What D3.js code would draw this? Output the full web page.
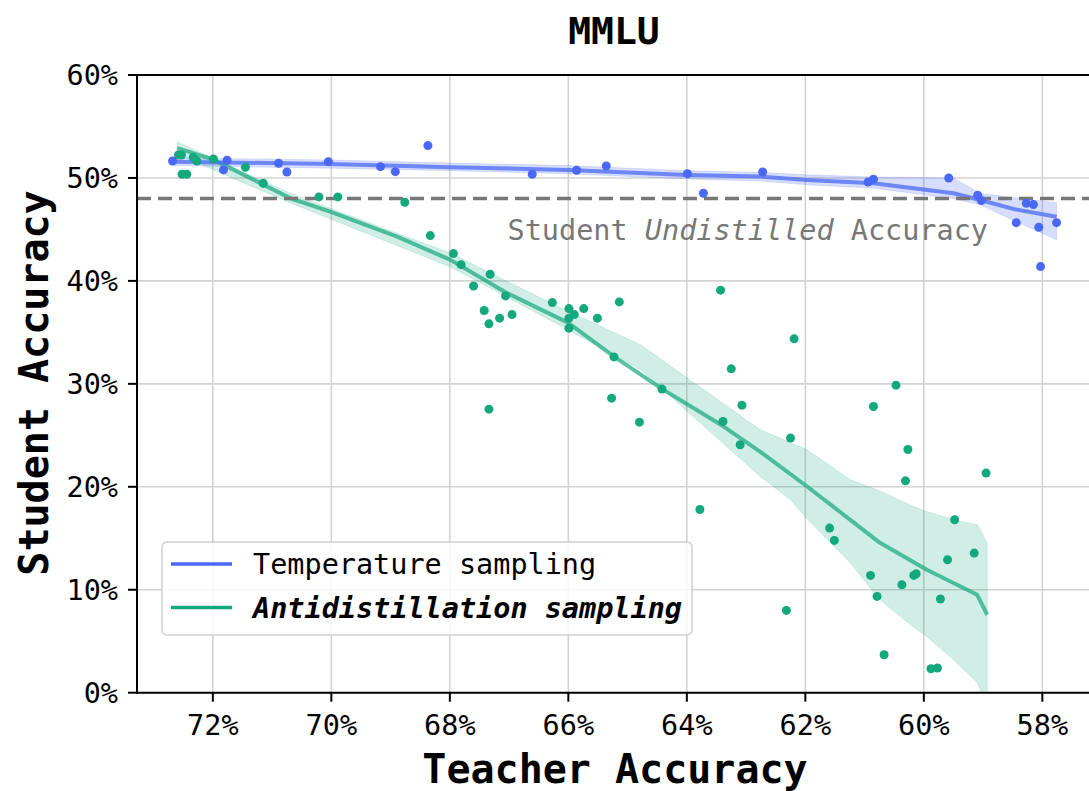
<!DOCTYPE html>
<head>
  <meta charset="utf-8">
  <script src="https://cdn.jsdelivr.net/npm/d3@7"></script>
  <style>
    body { margin: 0; background: white; }
    text { font-family: "DejaVu Sans Mono", monospace; }
  </style>
</head>
<body>
  <div id="chart"></div>
  <script>

  // teacher accuracy (%) / student accuracy (%)
  var tempX = [72.68, 71.76, 71.82, 70.89, 70.75, 70.05, 69.17, 68.92, 68.37, 66.61, 65.86, 65.36, 63.99,
               63.72, 62.72, 60.94, 60.85, 59.58, 59.09, 59.03, 58.44, 58.27, 58.15, 58.06, 58.03, 57.76];
  var tempY = [51.65, 51.72, 50.78, 51.43, 50.58, 51.58, 51.10, 50.61, 53.14, 50.36, 50.75, 51.17, 50.42,
               48.51, 50.58, 49.61, 49.87, 50.00, 48.32, 47.80, 45.66, 47.54, 47.41, 45.21, 41.39, 45.66];

  var antiX = [72.58, 72.53, 72.52, 72.44, 72.33, 72.27, 71.99, 71.45, 71.15, 70.21, 69.89, 68.76, 68.33,
               67.94, 67.81, 67.32, 67.60, 67.06, 67.42, 67.34, 67.16, 66.95, 67.34, 66.27, 65.99, 65.99,
               65.99, 65.90, 65.74, 65.51, 65.14, 65.23, 65.27, 64.80, 64.42, 63.43, 63.25, 63.07, 63.39,
               63.10, 63.78, 62.19, 60.47, 60.85, 62.25, 60.27, 60.31, 58.95, 59.48, 61.59, 61.51, 59.15,
               59.60, 60.90, 60.17, 60.13, 60.37, 60.79, 59.72, 62.32, 60.67, 59.88, 59.77];
  var antiY = [52.23, 52.23, 50.36, 50.36, 52.01, 51.65, 51.84, 51.04, 49.49, 48.16, 48.16, 47.64, 44.40,
               42.65, 41.58, 40.65, 39.51, 38.54, 37.12, 35.83, 36.38, 36.73, 27.54, 37.89, 37.31, 36.38,
               35.41, 36.73, 37.31, 36.38, 37.96, 32.62, 28.61, 26.28, 29.49, 39.10, 31.46, 27.93, 26.34,
               24.08, 17.80, 34.37, 29.87, 27.80, 24.73, 23.62, 20.58, 21.33, 16.80, 15.99, 14.79, 13.56,
               12.91, 11.39, 11.39, 11.55, 10.49, 9.35, 9.10, 7.99, 3.69, 2.33, 2.40];

  // smoothed trends and their bands
  var tempFitX  = [72.67, 70.02, 67.99, 66.0, 64.0, 62.76, 61.97, 60.85, 59.50, 59.05, 58.49, 57.76];
  var tempFitY  = [51.58, 51.36, 51.04, 50.78, 50.29, 50.13, 49.81, 49.49, 48.51, 47.86, 46.99, 46.24];
  var tempLoY   = [51.2, 50.95, 50.7, 50.4, 49.9, 49.7, 49.35, 49.0, 48.0, 47.4, 45.9, 44.0];
  var tempHiY   = [51.95, 51.75, 51.45, 51.2, 50.7, 50.55, 50.3, 50.1, 50.0, 48.5, 48.1, 47.6];

  var antiFitX  = [72.60, 72.0, 70.69, 70.02, 68.89, 67.99, 67.06, 66.0, 65.24, 64.42, 63.39, 62.76,
                   61.97, 60.74, 59.95, 59.10, 58.93];
  var antiFitY  = [52.9, 51.8, 48.03, 46.73, 44.30, 42.04, 38.9, 35.92, 32.7, 29.51, 25.9, 23.4,
                   20.03, 14.56, 11.94, 9.51, 7.57];
  var antiBandX = [72.60, 70.69, 67.99, 66.0, 64.78, 62.76, 62.25, 61.97, 61.24, 60.74, 60.18, 59.95, 59.50, 59.10, 59.03, 58.93];
  var antiLoY   = [52.3, 47.57, 41.36, 35.24, 31.36, 21.0, 18.74, 16.9, 12.6, 9.03, 6.4, 5.47, 3.2, 1.0, 0, 0];
  var antiHiY   = [53.5, 48.5, 42.7, 37.02, 33.79, 25.53, 24.3, 23.59, 20.68, 19.6, 18.09, 17.6, 16.8, 16.31, 15.6, 14.53];

  var xTicks = [72, 70, 68, 66, 64, 62, 60, 58];
  var yTicks = [0, 10, 20, 30, 40, 50, 60];
  var undistilled = 48;

  var blue = "#4a68f5", green = "#14a87e";

  var width = 1089, height = 791;
  var mLeft = 137, mTop = 75, mBottom = 692.7;

  var svg = d3.select("#chart").append("svg")
    .attr("width", width)
    .attr("height", height);

  var x = d3.scaleLinear().domain([73.28, 57.0]).range([mLeft, mLeft + 16.28 * 59.25]);
  var y = d3.scaleLinear().domain([0, 60]).range([mBottom, mTop]);

  svg.append("defs").append("clipPath").attr("id", "plotClip")
    .append("rect").attr("x", mLeft).attr("y", mTop).attr("width", width - mLeft).attr("height", mBottom - mTop);

  // grid
  var grid = svg.append("g");
  grid.selectAll(".gx").data(xTicks).enter().append("line")
    .attr("x1", d => x(d)).attr("x2", d => x(d))
    .attr("y1", mTop).attr("y2", mBottom)
    .style("stroke", "#d3d3d3").style("stroke-width", 1.6);
  grid.selectAll(".gy").data(yTicks).enter().append("line")
    .attr("x1", mLeft).attr("x2", width)
    .attr("y1", d => y(d)).attr("y2", d => y(d))
    .style("stroke", "#d3d3d3").style("stroke-width", 1.6);

  var plot = svg.append("g").attr("clip-path", "url(#plotClip)");

  var tempBand = tempFitX.map((v, i) => [v, tempLoY[i], tempHiY[i]]);
  var antiBand = antiBandX.map((v, i) => [v, antiLoY[i], antiHiY[i]]);
  var area = d3.area().x(d => x(d[0])).y0(d => y(d[1])).y1(d => y(d[2]));
  var line = d3.line().x(d => x(d[0])).y(d => y(d[1]));

  plot.append("path").datum(antiBand).attr("d", area)
    .style("fill", green).style("fill-opacity", 0.2)
    .style("stroke", green).style("stroke-opacity", 0.15);
  plot.append("path").datum(tempBand).attr("d", area)
    .style("fill", blue).style("fill-opacity", 0.22)
    .style("stroke", blue).style("stroke-opacity", 0.15);

  plot.append("path").datum(antiFitX.map((v, i) => [v, antiFitY[i]])).attr("d", line)
    .style("fill", "none").style("stroke", green).style("stroke-opacity", 0.7)
    .style("stroke-width", 4).style("stroke-linejoin", "round");
  plot.append("path").datum(tempFitX.map((v, i) => [v, tempFitY[i]])).attr("d", line)
    .style("fill", "none").style("stroke", blue).style("stroke-opacity", 0.75)
    .style("stroke-width", 4).style("stroke-linejoin", "round");

  // undistilled reference
  plot.append("line")
    .attr("x1", mLeft).attr("x2", width)
    .attr("y1", y(undistilled)).attr("y2", y(undistilled))
    .style("stroke", "#777").style("stroke-width", 3.5).style("stroke-dasharray", "14,7");

  plot.selectAll(".pa").data(antiX).enter().append("circle")
    .attr("cx", d => x(d)).attr("cy", (d, i) => y(antiY[i])).attr("r", 4.5)
    .style("fill", green);
  plot.selectAll(".pt").data(tempX).enter().append("circle")
    .attr("cx", d => x(d)).attr("cy", (d, i) => y(tempY[i])).attr("r", 4.5)
    .style("fill", blue);

  var note = svg.append("text")
    .attr("x", 988).attr("y", 240)
    .attr("text-anchor", "end")
    .style("font-size", "28.5px").style("fill", "#777");
  note.append("tspan").text("Student ");
  note.append("tspan").style("font-style", "italic").text("Undistilled");
  note.append("tspan").text(" Accuracy");

  // spines
  svg.append("line").attr("x1", mLeft).attr("x2", mLeft).attr("y1", mTop - 1).attr("y2", mBottom + 1)
    .style("stroke", "black").style("stroke-width", 2);
  svg.append("line").attr("x1", mLeft - 1).attr("x2", width).attr("y1", mTop).attr("y2", mTop)
    .style("stroke", "black").style("stroke-width", 2);
  svg.append("line").attr("x1", mLeft - 1).attr("x2", width).attr("y1", mBottom).attr("y2", mBottom)
    .style("stroke", "black").style("stroke-width", 2);

  // ticks
  svg.selectAll(".tx").data(xTicks).enter().append("line")
    .attr("x1", d => x(d)).attr("x2", d => x(d)).attr("y1", mBottom).attr("y2", mBottom + 9)
    .style("stroke", "black").style("stroke-width", 2);
  svg.selectAll(".lx").data(xTicks).enter().append("text")
    .attr("x", d => x(d)).attr("y", 735)
    .attr("text-anchor", "middle").style("font-size", "28.5px")
    .text(d => d + "%");
  svg.selectAll(".ty").data(yTicks).enter().append("line")
    .attr("x1", mLeft - 9).attr("x2", mLeft).attr("y1", d => y(d)).attr("y2", d => y(d))
    .style("stroke", "black").style("stroke-width", 2);
  svg.selectAll(".ly").data(yTicks).enter().append("text")
    .attr("x", 118).attr("y", d => y(d) + 10)
    .attr("text-anchor", "end").style("font-size", "28.5px")
    .text(d => d + "%");

  // labels
  svg.append("text").attr("x", 614).attr("y", 44)
    .attr("text-anchor", "middle").style("font-size", "38px").style("font-weight", "bold")
    .text("MMLU");
  svg.append("text").attr("x", 615).attr("y", 783)
    .attr("text-anchor", "middle").style("font-size", "40px").style("font-weight", "bold")
    .text("Teacher Accuracy");
  svg.append("text").attr("transform", "translate(48,383) rotate(-90)")
    .attr("text-anchor", "middle").style("font-size", "40px").style("font-weight", "bold")
    .text("Student Accuracy");

  // legend
  var legend = svg.append("g");
  legend.append("rect")
    .attr("x", 162).attr("y", 542).attr("width", 530).attr("height", 93).attr("rx", 5)
    .style("fill", "white").style("fill-opacity", 0.8)
    .style("stroke", "#d0d0d0").style("stroke-width", 1.5);
  var items = [
    {label: "Temperature sampling", color: blue, bold: false},
    {label: "Antidistillation sampling", color: green, bold: true}
  ];
  items.forEach(function(it, i) {
    var ly = 564 + i * 43.5;
    legend.append("line").attr("x1", 171).attr("x2", 232).attr("y1", ly).attr("y2", ly)
      .style("stroke", it.color).style("stroke-width", 3.5);
    legend.append("text").attr("x", 253).attr("y", ly + 10)
      .style("font-size", "28.5px")
      .style("font-weight", it.bold ? "bold" : "normal")
      .style("font-style", it.bold ? "italic" : "normal")
      .text(it.label);
  });

  </script>
</body>
